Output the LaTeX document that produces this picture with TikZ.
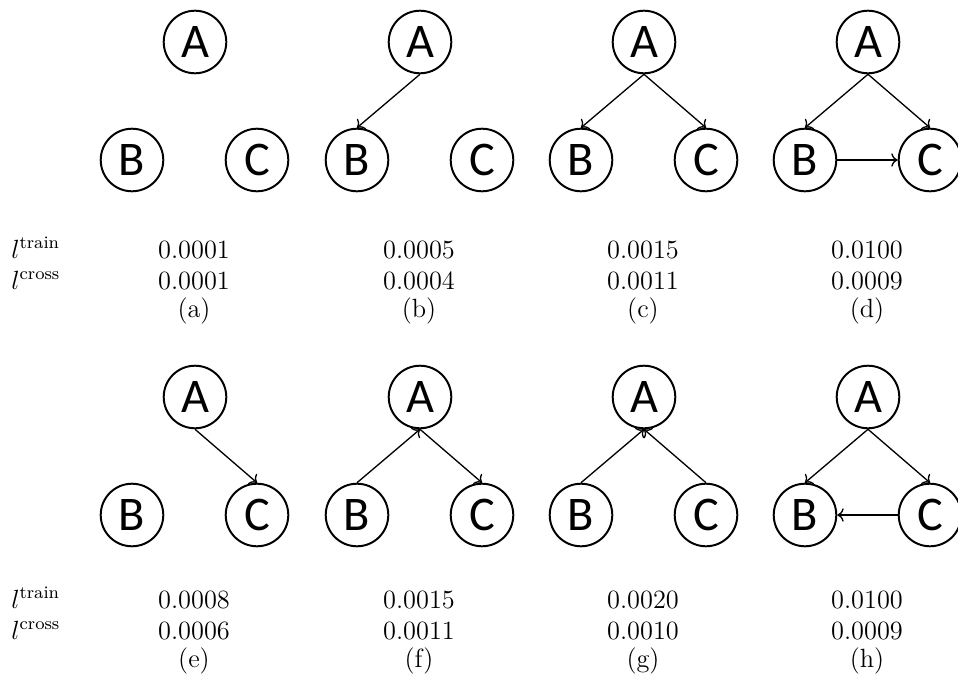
\documentclass[tikz,border=0pt]{standalone}
\usepackage{fontspec}
\newfontfamily\varfont{Carlito}
\usetikzlibrary{arrows.meta,
                positioning}

\begin{document}
\begin{tikzpicture}[x=0.016cm,y=-0.016cm,
  var/.style={draw,circle,line width=0.9pt,minimum size=28.5pt,inner sep=0pt,
              font=\varfont\fontsize{22}{24}\selectfont},
  num/.style={anchor=base,inner sep=0pt,font=\fontsize{12}{14}\selectfont},
  edge/.style={->,line width=0.6pt}]
\useasboundingbox (0,0) rectangle (958,687);

% the three variables of each panel
\foreach \p/\x/\y in {a/195/42,b/420/42,c/644/42,d/868/42,
                      e/195/397,f/420/397,g/644/397,h/868/397}{
  \node[var] (\p A) at (\x,\y) {A};
  \node[var] (\p B) at (\x-63,\y+118) {B};
  \node[var] (\p C) at (\x+62,\y+118) {C};
}

% losses under each panel
\foreach \p/\x/\y/\ltr/\lcr in {a/194/258/0.0001/0.0001,b/419/258/0.0005/0.0004,
                                c/643/258/0.0015/0.0011,d/867/258/0.0100/0.0009,
                                e/194/608/0.0008/0.0006,f/419/608/0.0015/0.0011,
                                g/643/608/0.0020/0.0010,h/867/608/0.0100/0.0009}{
  \node[num] (\p train) at (\x,\y) {$\ltr$};
  \node[num] (\p cross) at (\x,\y+31.5) {$\lcr$};
  \node[num] (\p cap) at (\x,\y+59) {(\p)};
}
\foreach \y/\r in {258/1,608/2}{
  \node[num,anchor=base west] (train\r) at (11,\y) {$l^{\mathrm{train}}$};
  \node[num,anchor=base west] (cross\r) at (11,\y+31.5) {$l^{\mathrm{cross}}$};
}

% edges
\draw[edge] (bA.south) -- (bB.north);
\foreach \p in {c,d,h}{
  \draw[edge] (\p A.south) -- (\p B.north);
  \draw[edge] (\p A.south) -- (\p C.north);
}
\draw[edge] (dB) -- (dC);
\draw[edge] (hC) -- (hB);
\draw[edge] (eA.south) -- (eC.north);
\draw[edge] (fB.north) -- (fA.south);
\draw[edge] (fA.south) -- (fC.north);
\draw[edge] (gB.north) -- (gA.south);
\draw[edge] (gC.north) -- (gA.south);
\end{tikzpicture}
\end{document}
